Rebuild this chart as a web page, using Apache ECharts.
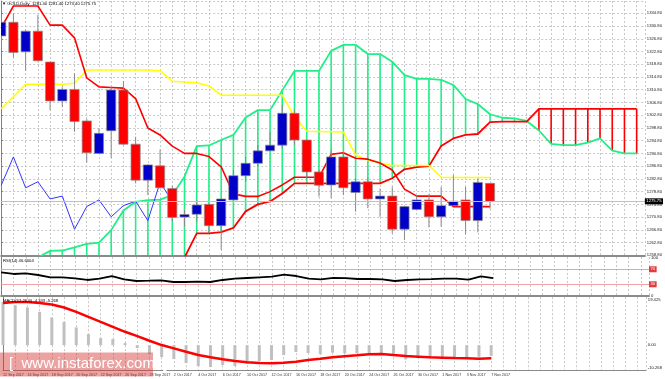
<!DOCTYPE html>
<html><head><meta charset="utf-8">
<script src="https://cdn.jsdelivr.net/npm/echarts@6/dist/echarts.min.js"></script>
<style>html,body{margin:0;padding:0;background:#fff}#c{width:665px;height:379px}</style>
</head><body><div id="c"></div>
<script>
// ---------- data ----------
const dates = ['12 Sep 2017','13 Sep 2017','14 Sep 2017','15 Sep 2017','18 Sep 2017','19 Sep 2017','20 Sep 2017','21 Sep 2017','22 Sep 2017','25 Sep 2017','26 Sep 2017','27 Sep 2017','28 Sep 2017','29 Sep 2017','2 Oct 2017','3 Oct 2017','4 Oct 2017','5 Oct 2017','6 Oct 2017','9 Oct 2017','10 Oct 2017','11 Oct 2017','12 Oct 2017','13 Oct 2017','16 Oct 2017','17 Oct 2017','18 Oct 2017','19 Oct 2017','20 Oct 2017','23 Oct 2017','24 Oct 2017','25 Oct 2017','26 Oct 2017','27 Oct 2017','30 Oct 2017','31 Oct 2017','1 Nov 2017','2 Nov 2017','3 Nov 2017','6 Nov 2017','7 Nov 2017'];
const open  = [1327.7,1332.0,1322.7,1329.2,1319.5,1307.3,1310.9,1301.0,1290.8,1297.9,1310.7,1293.7,1282.4,1286.9,1279.8,1270.8,1271.7,1274.8,1268.1,1276.2,1283.8,1287.7,1291.6,1293.4,1303.4,1295.0,1285.0,1280.9,1289.7,1278.5,1281.9,1276.5,1277.4,1267.0,1273.2,1276.2,1270.9,1274.4,1276.2,1269.7,1281.4];
const high  = [1334.0,1334.8,1329.6,1334.3,1319.6,1311.6,1316.0,1301.6,1298.7,1311.6,1313.5,1296.0,1287.4,1292.0,1280.6,1273.0,1276.2,1275.0,1276.6,1285.6,1289.8,1293.4,1297.6,1306.0,1304.4,1295.2,1285.6,1291.9,1291.3,1283.0,1283.0,1279.8,1280.3,1274.2,1277.7,1278.0,1280.3,1284.0,1280.3,1282.9,1281.4];
const low   = [1322.7,1321.0,1316.7,1319.7,1304.4,1305.3,1297.6,1287.9,1290.6,1289.4,1293.4,1281.4,1277.7,1279.8,1269.6,1267.8,1269.3,1265.7,1260.5,1276.0,1281.9,1286.6,1291.5,1292.4,1293.4,1282.7,1277.2,1276.7,1277.7,1272.5,1273.6,1270.9,1265.7,1263.6,1273.1,1267.6,1267.8,1274.3,1265.4,1266.0,1273.4];
const close = [1332.0,1322.5,1329.2,1319.9,1307.3,1310.9,1300.8,1291.0,1297.1,1310.7,1293.7,1282.4,1287.2,1280.0,1270.7,1271.6,1274.6,1268.1,1276.5,1283.8,1287.7,1291.6,1293.4,1303.4,1295.0,1285.0,1280.8,1289.7,1280.0,1281.9,1276.5,1277.4,1267.0,1274.1,1276.2,1270.9,1274.4,1275.8,1269.7,1281.7,1275.75];

const tenkan = [1330.2,1337.1,1337.1,1337.1,1331.1,1331.1,1327.1,1314.5,1311.7,1311.5,1311.3,1308.0,1298.8,1296.6,1293.1,1290.8,1290.8,1289.8,1286.6,1278.1,1277.3,1277.3,1278.8,1280.9,1283.3,1283.3,1283.3,1290.5,1291.0,1289.3,1289.0,1287.8,1285.6,1279.6,1277.4,1277.4,1277.4,1274.1,1274.1,1274.1,1274.1];
const kijun  = [1304.8,1308.6,1312.5,1312.5,1312.5,1312.5,1312.8,1317.0,1317.0,1317.0,1317.0,1317.0,1317.0,1316.8,1313.5,1313.2,1313.0,1312.0,1309.1,1309.1,1309.1,1309.1,1309.1,1309.1,1302.3,1297.8,1297.7,1297.6,1297.5,1290.3,1288.7,1287.8,1287.0,1287.0,1287.0,1287.0,1283.3,1283.2,1283.2,1283.2,1283.2];
const senkouA = [null,null,null,1258.1,1260.2,1260.3,1261.3,1262.4,1262.8,1266.7,1272.9,1275.6,1276.1,1276.3,1277.7,1283.5,1293.1,1293.3,1295.0,1296.6,1302.1,1304.4,1304.4,1310.6,1316.7,1316.7,1316.7,1323.0,1324.9,1324.9,1322.0,1322.0,1319.6,1315.4,1314.2,1314.2,1313.9,1312.3,1307.9,1306.3,1303.1,1302.0,1301.8,1301.0,1298.0,1293.8,1293.4,1293.4,1294.2,1295.5,1291.7,1290.8,1290.8];
const senkouB = [null,null,null,null,null,null,null,null,null,null,null,null,null,null,null,1258.1,1265.7,1265.7,1266.1,1267.4,1272.6,1274.8,1275.7,1278.2,1281.4,1281.4,1281.4,1281.4,1281.4,1281.4,1281.4,1281.4,1283.0,1285.8,1286.5,1286.8,1293.1,1295.5,1296.6,1296.9,1300.6,1300.8,1300.8,1300.8,1304.8,1304.8,1304.8,1304.8,1304.8,1304.8,1304.8,1304.8,1304.8];

const rsi = [62.0,57.5,59.3,54.8,48.7,48.7,46.0,41.5,44.9,52.1,43.3,38.8,39.6,40.7,36.1,36.1,36.9,36.1,41.5,44.9,46.8,48.7,50.3,55.6,52.1,44.9,43.3,47.3,46.5,44.1,44.1,43.3,38.8,41.5,43.3,43.6,44.9,44.9,42.3,51.3,46.6];
const rsiLevels = [70, 30];
const rsiLabels = [0, 100];

const macdMain = [17.52,16.19,15.26,13.48,11.22,9.44,7.18,4.48,2.86,2.46,0.84,-1.18,-3.60,-4.82,-5.62,-7.24,-8.45,-8.85,-8.05,-8.45,-7.64,-6.43,-6.03,-4.01,-2.80,-3.20,-3.60,-3.08,-3.32,-3.32,-3.32,-3.60,-4.41,-5.74,-4.94,-5.34,-5.50,-5.10,-5.10,-4.69,-4.34];
const macdSignal = [17.12,17.52,17.52,17.12,16.47,15.26,13.48,11.46,9.44,7.43,5.41,3.67,1.77,0.03,-1.30,-2.67,-4.01,-4.94,-5.74,-6.43,-6.96,-7.24,-7.36,-7.12,-6.71,-6.03,-5.50,-4.94,-4.49,-4.09,-3.68,-3.60,-4.01,-4.41,-4.65,-4.90,-5.06,-5.22,-5.34,-5.46,-5.27];
const macdMin = -10.268, macdMax = 19.425;

const priceMin = 1258.8, priceMax = 1338.67, priceStep = 4;
const chikouShift = 26;

// ---------- chart ----------
const FONT = '"Liberation Sans", Arial, sans-serif';
const GREEN = '#22ee88', RED = '#ff0000';
const X_MAX = 52.67;
const chart = echarts.init(document.getElementById('c'), null, {renderer: 'canvas', width: 665, height: 379});

const candleData = open.map((o, i) => [i, o, high[i], low[i], close[i]]);
const cloudData = senkouA.map((a, i) => [i, a == null ? '-' : a, senkouB[i] == null ? '-' : senkouB[i]]);
const pts = arr => arr.map((v, i) => [i, v]).filter(p => p[1] != null);
const chikou = close.slice(chikouShift).map((c, k) => [k, c]);
const last = close.length - 1;

const gridLine = {show: true, lineStyle: {color: '#c8c8c8', width: 1, type: [2, 2]}};
function xAx(gi, showLabels) {
  return {
    type: 'value', gridIndex: gi, min: 0, max: X_MAX, interval: 1,
    axisLine: {show: true, onZero: false, lineStyle: {color: '#8a8a8a', width: gi < 2 ? 2 : 1}},
    axisTick: {show: false},
    splitLine: gridLine,
    axisLabel: showLabels ? {
      show: true, showMaxLabel: false, showMinLabel: true, align: 'left', fontSize: 3.7, color: '#333', margin: 2.5, fontFamily: FONT,
      formatter: v => { const k = Math.round(v); return (k % 2 === 0 && dates[k]) ? dates[k] : ''; }
    } : {show: false}
  };
}
const yLine = {show: true, lineStyle: {color: '#808080', width: 1}};

const option = {
  animation: false,
  backgroundColor: '#ffffff',
  grid: [
    {left: 1.2, top: 1, width: 647.8, height: 254.3},
    {left: 1.2, top: 257, width: 647.8, height: 39.1},
    {left: 1.2, top: 297.2, width: 647.8, height: 73.3}
  ],
  xAxis: [xAx(0, false), xAx(1, false), xAx(2, true)],
  yAxis: [
    {type: 'value', gridIndex: 0, position: 'right', min: priceMin, max: priceMax, interval: priceStep,
      axisLine: yLine, axisTick: {show: true, length: 2, lineStyle: {color: '#808080'}},
      splitLine: gridLine,
      axisLabel: {fontSize: 4.2, color: '#222', margin: 2, showMaxLabel: false, fontFamily: FONT, formatter: v => v.toFixed(2)}},
    {type: 'value', gridIndex: 1, position: 'right', min: -1.5, max: 102.8, interval: 0.5,
      axisLine: yLine, axisTick: {show: false}, splitLine: {show: false},
      axisLabel: {fontSize: 4.2, color: '#222', margin: 2, showMaxLabel: false, showMinLabel: false, fontFamily: FONT,
        formatter: v => rsiLabels.indexOf(Math.round(v * 10) / 10) >= 0 ? String(Math.round(v)) : ''}},
    {type: 'value', gridIndex: 2, position: 'right', min: macdMin, max: macdMax, interval: -macdMin,
      axisLine: yLine, axisTick: {show: false}, splitLine: {show: false},
      axisLabel: {fontSize: 4.2, color: '#222', margin: 2, fontFamily: FONT,
        rich: {t: {fontSize: 4.2, padding: [6, 0, 0, 0]}, b: {fontSize: 4.2, padding: [0, 0, 6, 0]}},
        formatter: v => {
          if (Math.abs(v) < 1e-6) return '0.00';
          if (Math.abs(v - macdMax) < 1e-6) return '{t|' + macdMax.toFixed(3) + '}';
          if (Math.abs(v - macdMin) < 1e-6) return '{b|' + macdMin.toFixed(3) + '}';
          return '';
        }}}
  ],
  series: [
    {type: 'custom', name: 'cloud', xAxisIndex: 0, yAxisIndex: 0, data: cloudData, clip: true, z: 1,
      encode: {x: 0, y: [1, 2]},
      renderItem: (params, api) => {
        const i = api.value(0), a = api.value(1), b = api.value(2);
        if (isNaN(a)) return null;
        const pA = api.coord([i, a]);
        const cs = params.coordSys;
        const yB = isNaN(b) ? cs.y + cs.height : api.coord([i, b])[1];
        const col = (isNaN(b) || a >= b) ? GREEN : RED;
        return {type: 'line', shape: {x1: pA[0], y1: pA[1], x2: pA[0], y2: yB}, style: {stroke: col, lineWidth: 1.6}};
      }},
    {type: 'line', name: 'SenkouA', data: pts(senkouA), symbol: 'none', z: 2, lineStyle: {color: GREEN, width: 1.8}},
    {type: 'line', name: 'SenkouB', data: pts(senkouB), symbol: 'none', z: 2, lineStyle: {color: RED, width: 1.8}},
    {type: 'line', name: 'Kijun', data: pts(kijun), symbol: 'none', z: 2, lineStyle: {color: '#ffff00', width: 1.5}},
    {type: 'line', name: 'Tenkan', data: pts(tenkan), symbol: 'none', z: 2, lineStyle: {color: RED, width: 1.6},
      markLine: {silent: true, symbol: ['none', 'none'], data: [{yAxis: close[last]}],
        lineStyle: {color: '#c0c0c0', type: 'solid', width: 1},
        label: {show: true, position: 'end', distance: 0, formatter: close[last].toFixed(2), color: '#fff', backgroundColor: '#000',
          fontSize: 4.2, padding: [1, 1.5], fontFamily: FONT}}},
    {type: 'line', name: 'Chikou', data: chikou, symbol: 'none', z: 2, lineStyle: {color: '#3535ff', width: 1}},
    {type: 'custom', name: 'candles', data: candleData, clip: true, z: 4, encode: {x: 0, y: [1, 2, 3, 4]},
      renderItem: (params, api) => {
        const i = api.value(0), o = api.value(1), h = api.value(2), l = api.value(3), c = api.value(4);
        const po = api.coord([i, o]), pc = api.coord([i, c]), ph = api.coord([i, h]), pl = api.coord([i, l]);
        const x = po[0], w = 9.2;
        const top = Math.min(po[1], pc[1]), hgt = Math.max(Math.abs(po[1] - pc[1]), 1);
        return {type: 'group', children: [
          {type: 'line', shape: {x1: x, y1: ph[1], x2: x, y2: pl[1]}, style: {stroke: '#8a8a8a', lineWidth: 1}},
          {type: 'rect', shape: {x: x - w / 2, y: top, width: w, height: hgt},
            style: {fill: c >= o ? '#0000c8' : '#ff0000', stroke: '#8c8c8c', lineWidth: 0.7}}
        ]};
      }},
    {type: 'line', name: 'RSI', xAxisIndex: 1, yAxisIndex: 1, data: pts(rsi), symbol: 'none', z: 3,
      lineStyle: {color: '#000', width: 1.8},
      markLine: {silent: true, symbol: ['none', 'none'], data: rsiLevels.map(v => ({yAxis: v})),
        lineStyle: {color: '#f2a0a0', type: 'solid', width: 1},
        label: {show: true, position: 'end', distance: 0, formatter: p => String(p.value), color: '#fff', backgroundColor: '#e23c3c',
          fontSize: 4.2, padding: [1, 1.5], fontFamily: FONT}}},
    {type: 'bar', name: 'MACD', xAxisIndex: 2, yAxisIndex: 2, data: pts(macdMain), barWidth: 3, z: 2,
      itemStyle: {color: '#c0c0c0'}},
    {type: 'line', name: 'Signal', xAxisIndex: 2, yAxisIndex: 2, data: pts(macdSignal), symbol: 'none', z: 3,
      lineStyle: {color: RED, width: 2.5}}
  ],
  graphic: [
    {type: 'text', left: 2, top: 2, z: 100, style: {text: '\u25BC GOLD,Daily  ' + [open[last], high[last], low[last], close[last]].map(v => v.toFixed(2)).join(' '), font: '4.2px ' + FONT, fill: '#000'}},
    {type: 'text', left: 3, top: 258.5, z: 100, style: {text: 'RSI(14) 46.6004', font: '4.2px ' + FONT, fill: '#000'}},
    {type: 'text', left: 3, top: 299, z: 100, style: {text: 'MACD(12,26,9) -4.343 -5.268', font: '4.2px ' + FONT, fill: '#000'}},
    {type: 'rect', left: 0, top: 352.5, z: 100, shape: {width: 153, height: 24}, style: {fill: 'rgba(214,48,48,0.45)'}},
    {type: 'text', left: 9, top: 356, z: 101, style: {text: '[  www.instaforex.com  ]', fill: '#fff', font: '15px ' + FONT}}
  ]
};
chart.setOption(option);
</script>
</body></html>
